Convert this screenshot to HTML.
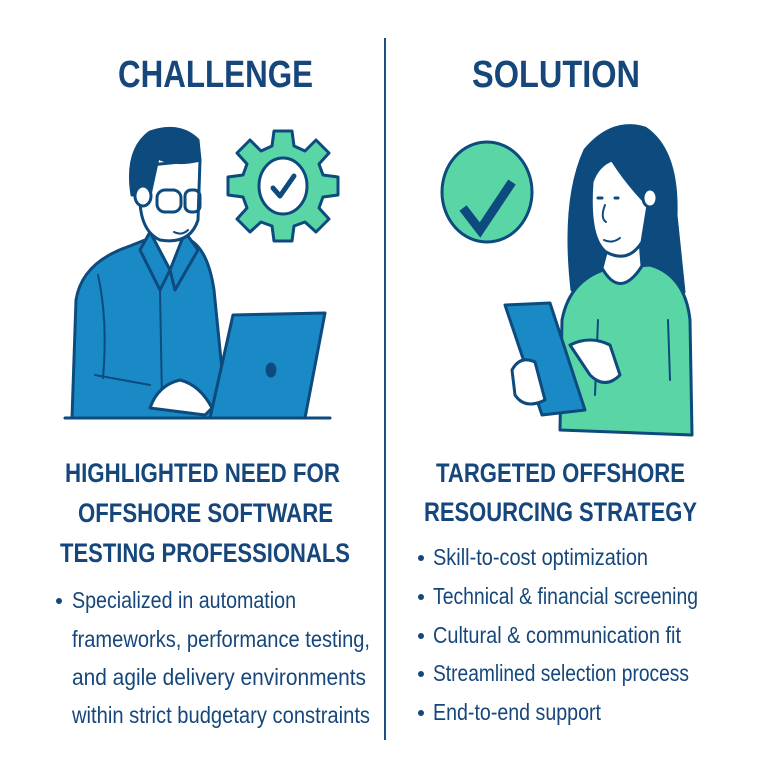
<!DOCTYPE html>
<html><head><meta charset="utf-8"><style>
html,body{margin:0;padding:0;background:#fff;width:770px;height:770px;overflow:hidden}
svg{display:block}
.t{font-family:"Liberation Sans Narrow","Liberation Sans",sans-serif;fill:#16477c}
.h{font-weight:bold;font-size:30px}
.s{font-weight:bold;font-size:27px}
.b{font-size:23px}
</style></head><body>
<svg width="770" height="770" viewBox="0 0 770 770">
<rect width="770" height="770" fill="#fff"/>
<line x1="385" y1="38" x2="385" y2="740" stroke="#1d4f82" stroke-width="2"/>
<text class="t h" x="118" y="87" textLength="195" lengthAdjust="spacingAndGlyphs" style="font-family:'Liberation Sans',sans-serif;font-size:38px">CHALLENGE</text>
<text class="t h" x="472" y="87" textLength="168" lengthAdjust="spacingAndGlyphs" style="font-family:'Liberation Sans',sans-serif;font-size:38px">SOLUTION</text>

<g stroke="#0d4a7e" stroke-width="3" stroke-linejoin="round" stroke-linecap="round">
<!-- gear -->
<g transform="translate(283,186)" fill="#5ad6a6">
<path d="M-9,-55 L9,-55 L11,-40 L22,-35 L33,-46 L46,-33 L36,-22 L40,-11 L55,-9 L55,9 L40,11 L36,22 L46,33 L33,46 L22,36 L11,40 L9,55 L-9,55 L-11,40 L-22,36 L-33,46 L-46,33 L-36,22 L-40,11 L-55,9 L-55,-9 L-40,-11 L-36,-22 L-46,-33 L-33,-46 L-22,-35 L-11,-40 Z"/>
<ellipse cx="0" cy="0" rx="24" ry="28" fill="#fff"/>
<path d="M-10,2 L-3,10 L11,-10" fill="none" stroke-width="5"/>
</g>
<!-- man body -->
<path d="M72,418 L76,300 Q82,262 130,246 L150,238 L190,240 Q208,250 214,290 L222,370 L215,418 Z" fill="#1a8ac6"/>
<path d="M150,232 L170,270 L192,245 L180,226 Z" fill="#fff"/>
<path d="M150,232 L140,250 L160,290 L170,270 Z" fill="#1a8ac6"/>
<path d="M185,232 L198,250 L175,290 L170,270 Z" fill="#1a8ac6"/>
<line x1="160" y1="290" x2="162" y2="400" stroke-width="2"/>
<path d="M98,275 Q108,320 103,378" fill="none" stroke-width="2"/>
<path d="M95,375 L150,385" fill="none" stroke-width="2"/>
<!-- head -->
<path d="M140,190 Q138,230 160,240 Q190,245 198,220 L200,160 L150,165 Z" fill="#fff"/>
<path d="M132,195 Q125,150 150,132 Q180,122 198,140 L200,160 Q175,166 158,158 L150,195 Z" fill="#0d4a7e"/>
<ellipse cx="143" cy="196" rx="8" ry="10" fill="#fff"/>
<rect x="157" y="190" width="24" height="22" rx="8" fill="none"/>
<rect x="185" y="190" width="15" height="22" rx="6" fill="none"/>
<path d="M174,232 Q182,236 188,230" fill="none" stroke-width="2"/>
<!-- laptop -->
<path d="M233,315 L325,313 L305,418 L210,418 Z" fill="#1a8ac6"/>
<ellipse cx="271" cy="370" rx="4" ry="6" fill="#0d4a7e"/>
<path d="M150,408 Q158,385 180,380 Q200,385 212,408 L205,415 Z" fill="#fff"/>
<line x1="65" y1="418" x2="330" y2="418" stroke-width="3"/>
<!-- check circle -->
<ellipse cx="487" cy="192" rx="45" ry="50" fill="#5ad6a6"/>
<path d="M463,208 L480,230 L512,182" fill="none" stroke-width="9" stroke-linecap="butt" stroke-linejoin="miter"/>
<!-- woman hair -->
<path d="M572,290 Q562,200 585,150 Q612,118 645,128 Q678,150 676,215 L684,292 Z" fill="#0d4a7e"/>
<!-- body -->
<path d="M560,430 L562,320 Q570,278 610,268 L650,265 Q685,275 690,320 L692,435 Z" fill="#5ad6a6"/>
<path d="M602,268 Q620,300 642,266 L640,240 L608,245 Z" fill="#fff"/>
<!-- face -->
<path d="M592,182 Q588,238 606,252 Q628,264 642,242 L648,205 Q628,185 612,160 Q598,165 592,182 Z" fill="#fff"/>
<ellipse cx="650" cy="198" rx="7" ry="9" fill="#fff"/>
<path d="M604,240 Q612,244 620,238" fill="none" stroke-width="2"/>
<path d="M598,198 L602,198 M615,198 L618,198" stroke-width="3"/>
<path d="M605,205 Q600,218 606,222" fill="none" stroke-width="2"/>
<line x1="598" y1="320" x2="595" y2="395" stroke-width="2"/>
<line x1="668" y1="320" x2="670" y2="380" stroke-width="2"/>
<!-- tablet -->
<path d="M505,305 L550,303 L585,410 L542,415 Z" fill="#1a8ac6"/>
<path d="M512,370 Q520,355 535,362 L545,400 Q525,410 515,395 Z" fill="#fff"/>
<path d="M570,345 Q590,335 610,345 L620,375 Q605,390 590,375 Z" fill="#fff"/>
</g>

<text class="t s" x="65" y="482" textLength="275" lengthAdjust="spacingAndGlyphs">HIGHLIGHTED NEED FOR</text>
<text class="t s" x="78" y="522" textLength="255" lengthAdjust="spacingAndGlyphs">OFFSHORE SOFTWARE</text>
<text class="t s" x="60" y="562" textLength="290" lengthAdjust="spacingAndGlyphs">TESTING PROFESSIONALS</text>
<text class="t s" x="436" y="482" textLength="249" lengthAdjust="spacingAndGlyphs">TARGETED OFFSHORE</text>
<text class="t s" x="424" y="521" textLength="273" lengthAdjust="spacingAndGlyphs">RESOURCING STRATEGY</text>

<g fill="#16477c"><circle cx="59" cy="601" r="3"/>
<circle cx="421" cy="558" r="3"/><circle cx="421" cy="597" r="3"/><circle cx="421" cy="636" r="3"/><circle cx="421" cy="674" r="3"/><circle cx="421" cy="713" r="3"/></g>
<text class="t b" x="72" y="608" textLength="224" lengthAdjust="spacingAndGlyphs">Specialized in automation</text>
<text class="t b" x="72" y="647" textLength="298" lengthAdjust="spacingAndGlyphs">frameworks, performance testing,</text>
<text class="t b" x="72" y="685" textLength="294" lengthAdjust="spacingAndGlyphs">and agile delivery environments</text>
<text class="t b" x="72" y="723" textLength="298" lengthAdjust="spacingAndGlyphs">within strict budgetary constraints</text>
<text class="t b" x="433" y="565" textLength="215" lengthAdjust="spacingAndGlyphs">Skill-to-cost optimization</text>
<text class="t b" x="433" y="604" textLength="265" lengthAdjust="spacingAndGlyphs">Technical &amp; financial screening</text>
<text class="t b" x="433" y="643" textLength="248" lengthAdjust="spacingAndGlyphs">Cultural &amp; communication fit</text>
<text class="t b" x="433" y="681" textLength="256" lengthAdjust="spacingAndGlyphs">Streamlined selection process</text>
<text class="t b" x="433" y="720" textLength="168" lengthAdjust="spacingAndGlyphs">End-to-end support</text>
</svg>
</body></html>
